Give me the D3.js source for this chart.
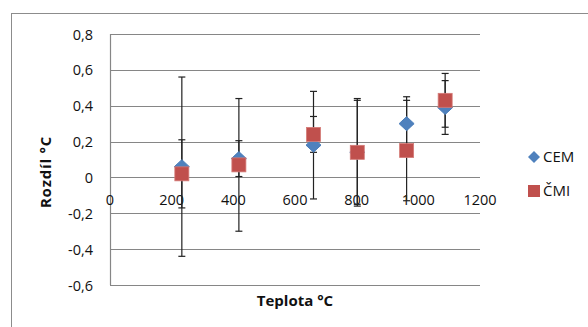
<!DOCTYPE html>
<html>
<head>
<meta charset="utf-8">
<script src="https://cdn.jsdelivr.net/npm/d3@7"></script>
<style>
  body { margin: 0; background: #fff; }
  text { font-family: "Open Sans", sans-serif; fill: #111; }
</style>
</head>
<body>
<div id="chart"></div>
<script>
// Values
const temps = [233, 418, 660, 802, 962, 1087];
const cem = [0.06, 0.105, 0.18, 0.14, 0.30, 0.39];
const cemErr = [0.50, 0.10, 0.30, 0.30, 0.15, 0.15];
const cmi = [0.02, 0.07, 0.24, 0.14, 0.15, 0.43];
const cmiErr = [0.19, 0.37, 0.10, 0.29, 0.28, 0.15];
const xTicks = [0, 200, 400, 600, 800, 1000, 1200];
const yTicks = [-0.6, -0.4, -0.2, 0, 0.2, 0.4, 0.6, 0.8];

const width = 588, height = 327;
const margin = { top: 34, right: 108, bottom: 42, left: 110 };

const svg = d3.select('#chart')
	.append('svg')
	.attr('width', width)
	.attr('height', height);

// outer chart frame (runs off the picture on the right and bottom)
svg.append('rect')
	.attr('x', 11.5).attr('y', 13.5)
	.attr('width', 700).attr('height', 400)
	.attr('fill', 'none')
	.attr('stroke', '#8c8c8c');

const x = d3.scaleLinear().domain([0, 1200]).range([margin.left, width - margin.right]);
const y = d3.scaleLinear().domain([-0.6, 0.8]).range([height - margin.bottom, margin.top]);

const fmt = v => v === 0 ? '0' : d3.format('.1f')(v).replace('.', ',').replace('−', '-');

// gridlines
svg.append('g')
	.selectAll('line')
	.data(yTicks)
	.join('line')
	.attr('x1', x(0)).attr('x2', x(1200))
	.attr('y1', d => Math.round(y(d)) + 0.5)
	.attr('y2', d => Math.round(y(d)) + 0.5)
	.attr('stroke', '#868686')
	.attr('stroke-width', 1.2);

// y axis line
svg.append('line')
	.attr('x1', x(0) + 0.5).attr('x2', x(0) + 0.5)
	.attr('y1', y(0.8)).attr('y2', y(-0.6))
	.attr('stroke', '#868686')
	.attr('stroke-width', 1.2);

// y tick labels
svg.append('g')
	.selectAll('text')
	.data(yTicks)
	.join('text')
	.attr('x', 93)
	.attr('y', d => y(d) + 5.5)
	.attr('text-anchor', 'end')
	.attr('font-size', 14.5)
	.text(fmt);

// x tick labels (sit just below the zero line)
svg.append('g')
	.selectAll('text')
	.data(xTicks)
	.join('text')
	.attr('x', d => x(d))
	.attr('y', y(0) + 28)
	.attr('text-anchor', 'middle')
	.attr('font-size', 14.5)
	.text(d => d);

// error bars
function errorBars(vals, errs) {
	const g = svg.append('g').attr('stroke', '#222').attr('stroke-width', 1.2);
	vals.forEach((v, i) => {
		const cx = x(temps[i]);
		g.append('line')
			.attr('x1', cx).attr('x2', cx)
			.attr('y1', y(v + errs[i])).attr('y2', y(v - errs[i]));
		[v + errs[i], v - errs[i]].forEach(e => {
			g.append('line')
				.attr('x1', cx - 3.5).attr('x2', cx + 3.5)
				.attr('y1', y(e)).attr('y2', y(e));
		});
	});
}
errorBars(cem, cemErr);
errorBars(cmi, cmiErr);

// markers
const diamond = 'M0,-7 L7.5,0 L0,7 L-7.5,0 Z';
svg.append('g')
	.selectAll('path')
	.data(cem)
	.join('path')
	.attr('d', diamond)
	.attr('transform', (d, i) => `translate(${x(temps[i])},${y(d)})`)
	.attr('fill', '#4f81bd')
	.attr('stroke', '#4a7ebb');

svg.append('g')
	.selectAll('rect')
	.data(cmi)
	.join('rect')
	.attr('x', (d, i) => x(temps[i]) - 7)
	.attr('y', d => y(d) - 7)
	.attr('width', 14).attr('height', 14)
	.attr('fill', '#c0504d')
	.attr('stroke', '#d47a77')
	.attr('stroke-width', 0.8);

// axis titles
svg.append('text')
	.attr('x', (x(0) + x(1200)) / 2)
	.attr('y', 306)
	.attr('text-anchor', 'middle')
	.attr('font-size', 15)
	.attr('font-weight', 'bold')
	.text('Teplota °C');

svg.append('text')
	.attr('transform', 'translate(51,172) rotate(-90)')
	.attr('text-anchor', 'middle')
	.attr('font-size', 15)
	.attr('font-weight', 'bold')
	.attr('letter-spacing', 0.8)
	.text('Rozdíl °C');

// legend
const legend = svg.append('g');
legend.append('path')
	.attr('d', 'M0,-6 L6,0 L0,6 L-6,0 Z')
	.attr('transform', 'translate(534,157)')
	.attr('fill', '#4f81bd');
legend.append('text')
	.attr('x', 543).attr('y', 162)
	.attr('font-size', 15)
	.text('CEM');
legend.append('rect')
	.attr('x', 528).attr('y', 185)
	.attr('width', 12).attr('height', 12)
	.attr('fill', '#c0504d');
legend.append('text')
	.attr('x', 543).attr('y', 196)
	.attr('font-size', 15)
	.text('ČMI');
</script>
</body>
</html>
